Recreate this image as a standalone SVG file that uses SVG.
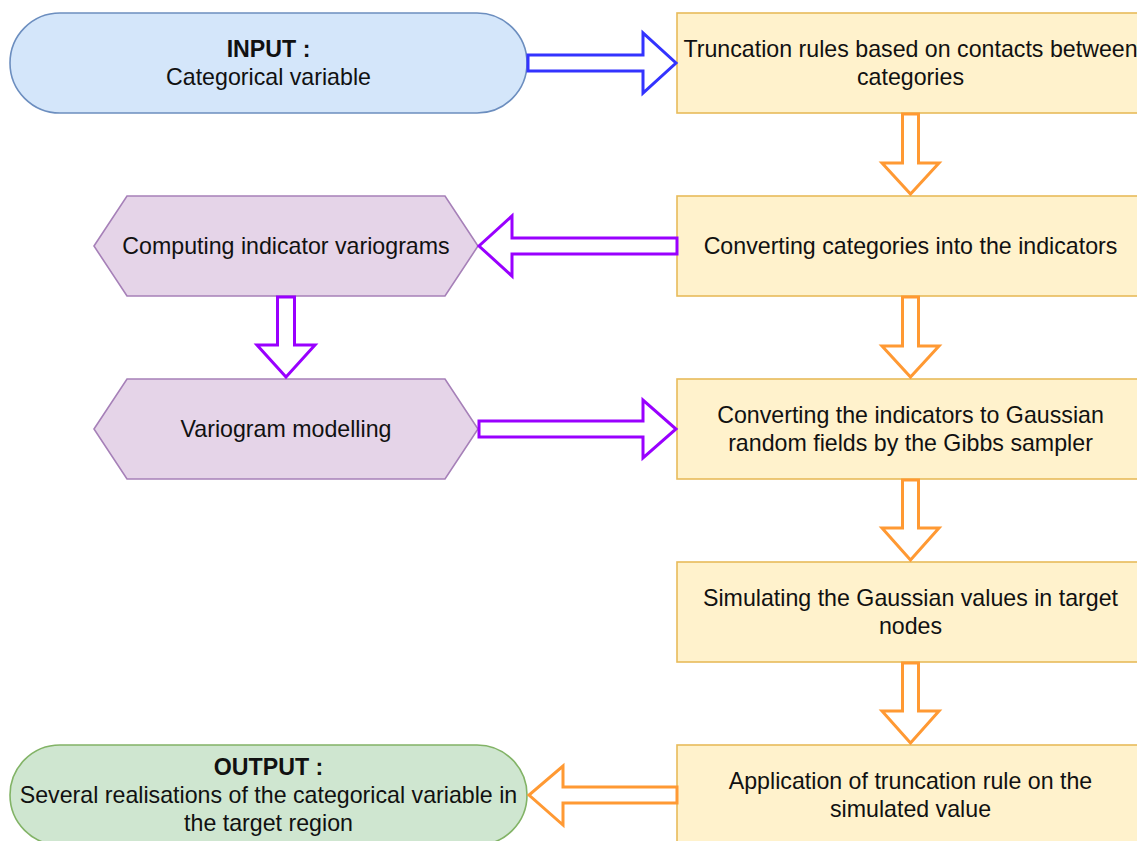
<svg xmlns="http://www.w3.org/2000/svg" width="1137" height="841" viewBox="0 0 1137 841">
<style>
text{font-family:"Liberation Sans",Arial,sans-serif;font-size:23.2px;fill:#111;text-anchor:middle}
.b{font-weight:bold}
.box{fill:#fff2cc;stroke:#e8bb5a;stroke-width:1.6}
.inp{fill:#d4e6fa;stroke:#6c8ebf;stroke-width:1.6}
.out{fill:#cfe6d0;stroke:#82b366;stroke-width:1.6}
.hex{fill:#e5d4e8;stroke:#a680b8;stroke-width:1.6}
.ab{fill:#fff;stroke:#3333ff;stroke-width:3;stroke-linejoin:miter}
.ap{fill:#fff;stroke:#9900ff;stroke-width:3}
.ao{fill:#fff;stroke:#ff9933;stroke-width:3}
</style>
<rect width="1137" height="841" fill="#fff"/>
<g id="input">
<rect class="inp" x="10" y="13" width="517" height="100" rx="50" ry="50"/>
<text class="b" x="268.5" y="57">INPUT :</text>
<text x="268.5" y="85">Categorical variable</text>
</g>
<g id="truncation-rules">
<rect class="box" x="677" y="13" width="467" height="100"/>
<text x="910.5" y="57">Truncation rules based on contacts between</text>
<text x="910.5" y="85">categories</text>
</g>
<g id="converting-categories">
<rect class="box" x="677" y="196" width="467" height="100"/>
<text x="910.5" y="254">Converting categories into the indicators</text>
</g>
<g id="computing-variograms">
<polygon class="hex" points="94,246 127,196 445,196 478,246 445,296 127,296"/>
<text x="286" y="254">Computing indicator variograms</text>
</g>
<g id="variogram-modelling">
<polygon class="hex" points="94,429 127,379 445,379 478,429 445,479 127,479"/>
<text x="286" y="437">Variogram modelling</text>
</g>
<g id="converting-indicators">
<rect class="box" x="677" y="379" width="467" height="100"/>
<text x="910.5" y="423">Converting the indicators to Gaussian</text>
<text x="910.5" y="451">random fields by the Gibbs sampler</text>
</g>
<g id="simulating">
<rect class="box" x="677" y="562" width="467" height="100"/>
<text x="910.5" y="606">Simulating the Gaussian values in target</text>
<text x="910.5" y="634">nodes</text>
</g>
<g id="application">
<rect class="box" x="677" y="745" width="467" height="100"/>
<text x="910.5" y="789">Application of truncation rule on the</text>
<text x="910.5" y="817">simulated value</text>
</g>
<g id="output">
<rect class="out" x="10" y="745" width="517" height="100" rx="50" ry="50"/>
<text class="b" x="268.5" y="775">OUTPUT :</text>
<text x="268.5" y="803">Several realisations of the categorical variable in</text>
<text x="268.5" y="831">the target region</text>
</g>
<g id="connectors">
<path class="ab" d="M528,55 L643,55 L643,33 L676,63 L643,93 L643,71 L528,71 Z"/>
<path class="ao" d="M902.5,114 L918.5,114 L918.5,163 L939,163 L910.5,194 L882,163 L902.5,163 Z"/>
<path class="ap" d="M677,238 L512,238 L512,216 L479,246 L512,276 L512,254 L677,254 Z"/>
<path class="ao" d="M902.5,297 L918.5,297 L918.5,346 L939,346 L910.5,377 L882,346 L902.5,346 Z"/>
<path class="ap" d="M277.5,297 L294.5,297 L294.5,345 L315,345 L286,377 L257,345 L277.5,345 Z"/>
<path class="ap" d="M479,421 L643,421 L643,400 L676,429 L643,458 L643,437 L479,437 Z"/>
<path class="ao" d="M902.5,480 L918.5,480 L918.5,528 L939,528 L910.5,560 L882,528 L902.5,528 Z"/>
<path class="ao" d="M902.5,663 L918.5,663 L918.5,711 L939,711 L910.5,743 L882,711 L902.5,711 Z"/>
<path class="ao" d="M677,787 L563,787 L563,766 L529,795 L563,825 L563,803 L677,803 Z"/>
</g>
</svg>
